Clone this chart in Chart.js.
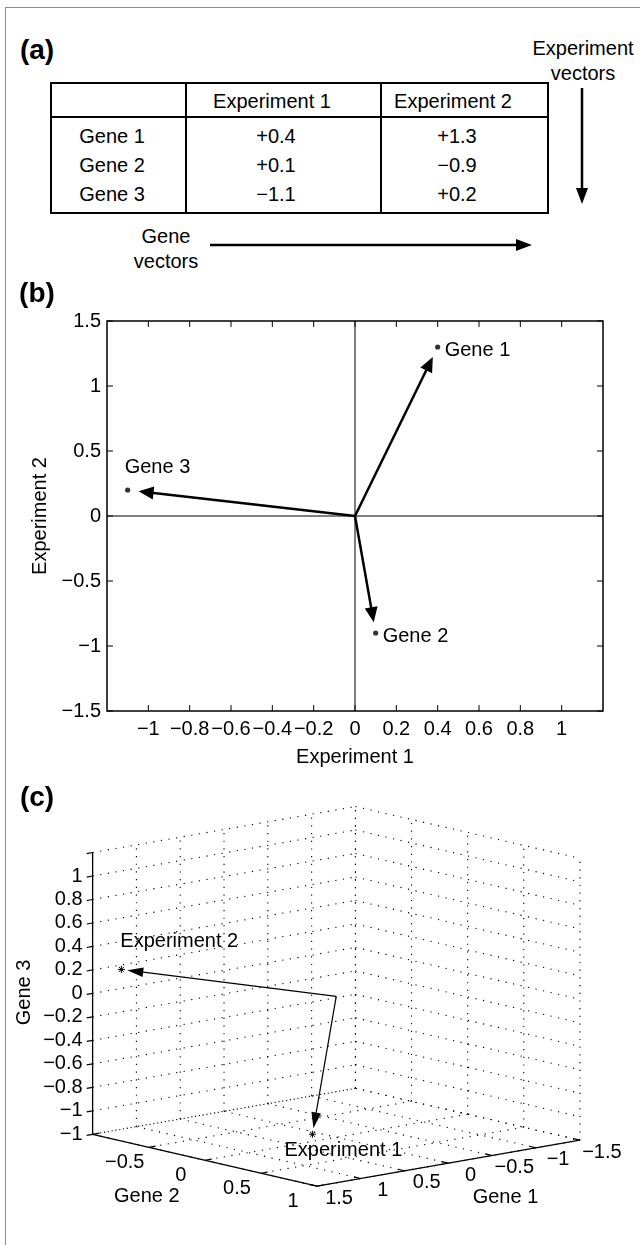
<!DOCTYPE html>
<html><head><meta charset="utf-8">
<script src="https://cdn.jsdelivr.net/npm/chart.js@4.4.1/dist/chart.umd.min.js"></script>
<style>
html,body{margin:0;padding:0;background:#fff;}
body{width:640px;height:1245px;position:relative;overflow:hidden;font-family:"Liberation Sans",Arial,Helvetica,sans-serif;color:#000;}
#frame{position:absolute;left:5px;top:7px;width:700px;height:1300px;border-left:1.5px solid #8a8a8a;border-top:1.5px solid #8a8a8a;box-sizing:border-box;}
.t{position:absolute;font-size:20px;line-height:20px;white-space:nowrap;transform:translate(-50%,-50%);}
.p{position:absolute;font-size:28px;font-weight:bold;line-height:28px;white-space:nowrap;transform:translate(-50%,-50%);}
.ln{position:absolute;background:#000;}
canvas{position:absolute;left:0;}
svg{position:absolute;left:0;top:0;}
</style></head>
<body>
<div id="frame"></div>
<svg width="640" height="300">
  <line x1="582" y1="88" x2="582" y2="190" stroke="#000" stroke-width="2.5"/>
  <polygon points="582,204 576,188 588,188" fill="#000"/>
  <line x1="210" y1="245" x2="518" y2="245" stroke="#000" stroke-width="2.5"/>
  <polygon points="532,245 516,239 516,251" fill="#000"/>
</svg>
<canvas id="cb" width="640" height="480" style="top:300px"></canvas>
<canvas id="cc" width="640" height="465" style="top:780px"></canvas>
<script>
// ---------------- DATA ----------------
const panelLabels = ['(a)', '(b)', '(c)'];
const genes = ['Gene 1', 'Gene 2', 'Gene 3'];
const experiments = ['Experiment 1', 'Experiment 2'];
const exp1 = [0.4, 0.1, -1.1];   // Experiment 1 value for Gene 1..3
const exp2 = [1.3, -0.9, 0.2];   // Experiment 2 value for Gene 1..3
const geneVectorsText = ['Gene', 'vectors'];
const expVectorsText = ['Experiment', 'vectors'];

// panel (b) ticks
const bXTicks = [-1, -0.8, -0.6, -0.4, -0.2, 0, 0.2, 0.4, 0.6, 0.8, 1];
const bYTicks = [-1.5, -1, -0.5, 0, 0.5, 1, 1.5];

// panel (c) ticks and labels
const axisNames3D = ['Gene 1', 'Gene 2', 'Gene 3'];
const g1Ticks = [-1.5, -1, -0.5, 0, 0.5, 1, 1.5];
const g1Labels = ['−1.5', '−1', '−0.5', '0', '0.5', '1', '1.5'];
const g2Ticks = [-1, -0.5, 0, 0.5, 1];
const g2Labels = ['', '−0.5', '0', '0.5', '1'];
const g3Ticks = [-1.2, -1, -0.8, -0.6, -0.4, -0.2, 0, 0.2, 0.4, 0.6, 0.8, 1, 1.2];
const g3Labels = ['−1', '−1', '−0.8', '−0.6', '−0.4', '−0.2', '0', '0.2', '0.4', '0.6', '0.8', '1', ''];

// ---------------- STYLE / LAYOUT ----------------
const FONT = '"Liberation Sans", Arial, Helvetica, sans-serif';
const fmtSigned = v => (v > 0 ? '+' : '−') + Math.abs(v).toFixed(1);
const fmtTick = v => (v < 0 ? '−' : '') + String(Math.abs(v));

function txt(s, x, y, cls) {
  const d = document.createElement('div');
  d.className = cls || 't'; d.textContent = s;
  d.style.left = x + 'px'; d.style.top = y + 'px';
  document.body.appendChild(d); return d;
}
function box(x, y, w, h) {
  const d = document.createElement('div'); d.className = 'ln';
  d.style.left = x + 'px'; d.style.top = y + 'px'; d.style.width = w + 'px'; d.style.height = h + 'px';
  document.body.appendChild(d);
}

// ---------------- PANEL (a): table ----------------
const panelPos = [[37, 50], [37, 293], [37, 797]];
panelLabels.forEach((s, i) => txt(s, panelPos[i][0], panelPos[i][1], 'p'));
const tbl = {left: 50, right: 547, top: 82, head: 116, bottom: 212, cols: [185, 380]};
box(tbl.left, tbl.top, tbl.right - tbl.left, 1.5);
box(tbl.left, tbl.bottom, tbl.right - tbl.left + 1.5, 1.5);
box(tbl.left, tbl.head, tbl.right - tbl.left, 1.5);
box(tbl.left, tbl.top, 1.5, tbl.bottom - tbl.top);
box(tbl.right, tbl.top, 1.5, tbl.bottom - tbl.top);
tbl.cols.forEach(c => box(c, tbl.top, 1.5, tbl.bottom - tbl.top));
const headX = [272, 453], valX = [276, 457], geneX = 112, headY = 101, rowY = [136, 165, 194];
experiments.forEach((e, j) => txt(e, headX[j], headY));
genes.forEach((g, i) => {
  txt(g, geneX, rowY[i]);
  txt(fmtSigned(exp1[i]), valX[0], rowY[i]);
  txt(fmtSigned(exp2[i]), valX[1], rowY[i]);
});
txt(expVectorsText[0], 583, 48); txt(expVectorsText[1], 583, 73);
txt(geneVectorsText[0], 166, 236); txt(geneVectorsText[1], 166, 261);

// ---------------- helpers ----------------
function arrow(ctx, x0, y0, x1, y1, lw, headLen, headHalf, shorten) {
  const dx = x1 - x0, dy = y1 - y0, L = Math.hypot(dx, dy), ux = dx / L, uy = dy / L;
  const tx = x1 - ux * shorten, ty = y1 - uy * shorten;
  const bx = tx - ux * headLen, by = ty - uy * headLen;
  ctx.lineWidth = lw;
  ctx.beginPath(); ctx.moveTo(x0, y0); ctx.lineTo(bx + ux * 2, by + uy * 2); ctx.stroke();
  ctx.beginPath(); ctx.moveTo(tx, ty);
  ctx.lineTo(bx - uy * headHalf, by + ux * headHalf);
  ctx.lineTo(bx + uy * headHalf, by - ux * headHalf);
  ctx.closePath(); ctx.fill();
}

// ---------------- PANEL (b) ----------------
const labelPlace = ['right', 'right', 'above'];
const bDeco = {
  id: 'bDeco',
  beforeDatasetsDraw(chart) {
    const {ctx, chartArea: a, scales: {x, y}} = chart;
    ctx.save(); ctx.strokeStyle = '#000'; ctx.lineWidth = 1;
    const x0 = x.getPixelForValue(0), y0 = y.getPixelForValue(0);
    ctx.beginPath();
    ctx.moveTo(x0, a.top); ctx.lineTo(x0, a.bottom);
    ctx.moveTo(a.left, y0); ctx.lineTo(a.right, y0);
    bXTicks.forEach(v => { const px = x.getPixelForValue(v);
      ctx.moveTo(px, a.top); ctx.lineTo(px, a.top + 6); ctx.moveTo(px, a.bottom); ctx.lineTo(px, a.bottom - 6); });
    bYTicks.forEach(v => { const py = y.getPixelForValue(v);
      ctx.moveTo(a.left, py); ctx.lineTo(a.left + 6, py); ctx.moveTo(a.right, py); ctx.lineTo(a.right - 6, py); });
    ctx.stroke();
    ctx.lineWidth = 1.5; ctx.strokeRect(a.left, a.top, a.right - a.left, a.bottom - a.top);
    ctx.restore();
  },
  afterDatasetsDraw(chart) {
    const {ctx, scales: {x, y}} = chart;
    ctx.save(); ctx.fillStyle = '#000'; ctx.strokeStyle = '#000';
    const ox = x.getPixelForValue(0), oy = y.getPixelForValue(0);
    genes.forEach((g, i) => {
      const px = x.getPixelForValue(exp1[i]), py = y.getPixelForValue(exp2[i]);
      arrow(ctx, ox, oy, px, py, 2.5, 15, 6.5, 11);
      ctx.font = '20px ' + FONT; ctx.textAlign = 'left'; ctx.textBaseline = 'middle';
      if (labelPlace[i] === 'right') ctx.fillText(g, px + 7, py + 3);
      else ctx.fillText(g, px - 3, py - 23);
    });
    ctx.restore();
  }
};
new Chart(document.getElementById('cb'), {
  type: 'scatter',
  data: {datasets: [{
    data: genes.map((g, i) => ({x: exp1[i], y: exp2[i]})),
    pointRadius: 2.6, pointBackgroundColor: '#333', pointBorderWidth: 0, pointStyle: 'circle'
  }]},
  options: {
    responsive: false, animation: false, events: [],
    layout: {padding: {left: 0, right: 37, top: 21, bottom: 0}},
    plugins: {legend: {display: false}, tooltip: {enabled: false}},
    scales: {
      x: {type: 'linear', min: -1.2, max: 1.2,
        afterBuildTicks: s => { s.ticks = bXTicks.map(v => ({value: v})); },
        afterFit: s => { s.height = 69; },
        grid: {display: false, drawTicks: false}, border: {display: false},
        ticks: {padding: 6, autoSkip: false, maxRotation: 0, minRotation: 0, color: '#000',
          font: {family: FONT, size: 20}, callback: v => fmtTick(v)},
        title: {display: true, text: experiments[0], color: '#000', font: {family: FONT, size: 20},
          padding: {top: 0, bottom: 11}}},
      y: {type: 'linear', min: -1.5, max: 1.5,
        afterBuildTicks: s => { s.ticks = bYTicks.map(v => ({value: v})); },
        afterFit: s => { s.width = 107; },
        grid: {display: false, drawTicks: false}, border: {display: false},
        ticks: {padding: 6, autoSkip: false, color: '#000', font: {family: FONT, size: 20},
          callback: v => fmtTick(v)},
        title: {display: true, text: experiments[1], color: '#000', font: {family: FONT, size: 20},
          padding: {top: 28, bottom: 0}}}
    }
  },
  plugins: [bDeco]
});

// ---------------- PANEL (c): 3-D view ----------------
const VIEW = {g1: [-89, 15.67], g2: [114, 26.5], g3: [0, -120]}; // screen offset per unit of each axis
function P(a, b, c) {
  return {x: a * VIEW.g1[0] + b * VIEW.g2[0] + c * VIEW.g3[0],
          y: a * VIEW.g1[1] + b * VIEW.g2[1] + c * VIEW.g3[1]};
}
const g1Min = g1Ticks[0], g1Max = g1Ticks[g1Ticks.length - 1];
const g2Min = g2Ticks[0], g2Max = g2Ticks[g2Ticks.length - 1];
const g3Min = g3Ticks[0], g3Max = g3Ticks[g3Ticks.length - 1];

const segs = [];
g1Ticks.forEach(a => segs.push([P(a, g2Min, g3Min), P(a, g2Min, g3Max)]));
g3Ticks.forEach(c => segs.push([P(g1Max, g2Min, c), P(g1Min, g2Min, c)]));
g2Ticks.forEach(b => segs.push([P(g1Min, b, g3Min), P(g1Min, b, g3Max)]));
g3Ticks.forEach(c => segs.push([P(g1Min, g2Min, c), P(g1Min, g2Max, c)]));
g1Ticks.forEach(a => segs.push([P(a, g2Min, g3Min), P(a, g2Max, g3Min)]));
g2Ticks.forEach(b => segs.push([P(g1Min, b, g3Min), P(g1Max, b, g3Min)]));

const gridSets = segs.map(s => ({data: s, showLine: true, borderColor: '#000', borderWidth: 1.1,
  borderDash: [1.2, 6.5], pointRadius: 0, fill: false}));
const axisSegs = [
  [P(g1Max, g2Min, g3Min), P(g1Max, g2Min, g3Max)],
  [P(g1Max, g2Min, g3Min), P(g1Max, g2Max, g3Min)],
  [P(g1Max, g2Max, g3Min), P(g1Min, g2Max, g3Min)]
];
const axisSets = axisSegs.map(s => ({data: s, showLine: true, borderColor: '#000', borderWidth: 1.3,
  pointRadius: 0, fill: false}));
const expVecs = [exp1, exp2];
const pointSet = {data: expVecs.map(v => P(v[0], v[1], v[2])), showLine: false, pointStyle: 'star',
  pointRadius: 3.5, borderColor: '#000', pointBorderWidth: 1, backgroundColor: '#000'};

const cDeco = {
  id: 'cDeco',
  afterDatasetsDraw(chart) {
    const {ctx, scales: {x, y}} = chart;
    const px = p => ({x: x.getPixelForValue(p.x), y: y.getPixelForValue(p.y)});
    const unit = (p, q) => { const a = px(p), b = px(q), L = Math.hypot(b.x - a.x, b.y - a.y); return [(b.x - a.x) / L, (b.y - a.y) / L]; };
    ctx.save(); ctx.strokeStyle = '#000'; ctx.fillStyle = '#000'; ctx.lineWidth = 1.2;
    ctx.font = '20px ' + FONT; ctx.textBaseline = 'middle';
    // z axis ticks/labels
    const dz = unit(P(0, 0, 0), P(1, 0, 0));
    ctx.textAlign = 'right';
    g3Ticks.forEach((c, i) => {
      const t = px(P(g1Max, g2Min, c));
      ctx.beginPath(); ctx.moveTo(t.x, t.y); ctx.lineTo(t.x + dz[0] * 6, t.y + dz[1] * 6); ctx.stroke();
      ctx.fillText(g3Labels[i], t.x - 10, t.y);
    });
    // gene 2 axis
    const d2 = unit(P(1, 0, 0), P(0, 0, 0));
    ctx.textAlign = 'center';
    g2Ticks.forEach((b, i) => {
      const t = px(P(g1Max, b, g3Min));
      ctx.beginPath(); ctx.moveTo(t.x, t.y); ctx.lineTo(t.x + d2[0] * 7, t.y + d2[1] * 7); ctx.stroke();
      ctx.fillText(g2Labels[i], t.x - 24, t.y + 15);
    });
    // gene 1 axis
    const d1 = unit(P(0, 1, 0), P(0, 0, 0));
    g1Ticks.forEach((a, i) => {
      const t = px(P(a, g2Max, g3Min));
      ctx.beginPath(); ctx.moveTo(t.x, t.y); ctx.lineTo(t.x + d1[0] * 7, t.y + d1[1] * 7); ctx.stroke();
      ctx.fillText(g1Labels[i], t.x + 22, t.y + 12);
    });
    // axis titles
    const m2 = px(P(g1Max, (g2Min + g2Max) / 2, g3Min));
    ctx.fillText(axisNames3D[1], m2.x - 58, m2.y + 36);
    const m1 = px(P((g1Min + g1Max) / 2, g2Max, g3Min));
    ctx.fillText(axisNames3D[0], m1.x + 57, m1.y + 34);
    const m3 = px(P(g1Max, g2Min, (g3Min + g3Max) / 2));
    ctx.save(); ctx.translate(24, m3.y - 1); ctx.rotate(-Math.PI / 2);
    ctx.fillText(axisNames3D[2], 0, 0); ctx.restore();
    // arrows to experiment vectors
    const o = px(P(0, 0, 0));
    ctx.textAlign = 'left';
    expVecs.forEach((v, k) => {
      const e = px(P(v[0], v[1], v[2]));
      arrow(ctx, o.x, o.y, e.x, e.y, 1.2, 16, 4.8, 6);
      if (k === 0) ctx.fillText(experiments[k], e.x - 28, e.y + 16);
      else ctx.fillText(experiments[k], e.x - 1, e.y - 28);
    });
    ctx.restore();
  }
};
new Chart(document.getElementById('cc'), {
  type: 'scatter',
  data: {datasets: [...gridSets, ...axisSets, pointSet]},
  options: {
    responsive: false, animation: false, events: [],
    layout: {padding: 0},
    plugins: {legend: {display: false}, tooltip: {enabled: false}},
    scales: {
      x: {type: 'linear', display: false, min: -336.5, max: 303.5},
      y: {type: 'linear', display: false, reverse: true, min: -216, max: 249}
    }
  },
  plugins: [cDeco]
});
</script>
</body></html>
